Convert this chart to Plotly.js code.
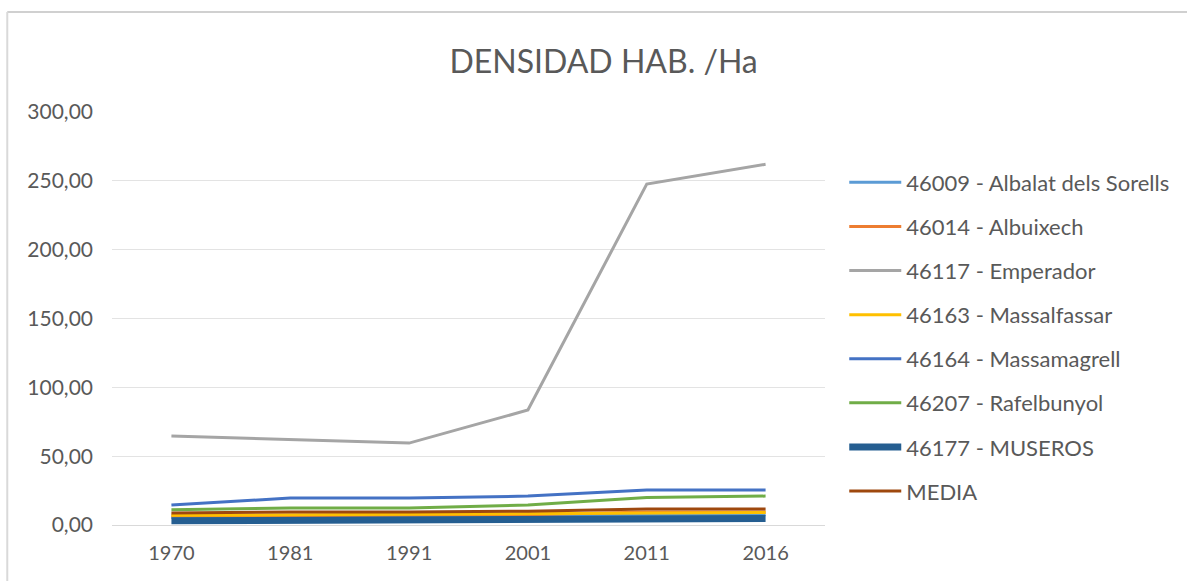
<!DOCTYPE html>
<html>
<head>
<meta charset="utf-8">
<script src="https://cdn.plot.ly/plotly-3.0.1.min.js"></script>
<style>html,body{margin:0;padding:0;background:#fff;}#chart{width:1187px;height:581px;}</style>
</head>
<body>
<div id="chart"></div>
<script>
const years = ['1970', '1981', '1991', '2001', '2011', '2016'];
const albalat = [5.5, 6.0, 6.0, 6.5, 7.5, 7.5];
const albuixech = [6.5, 7.0, 7.0, 7.5, 9.5, 9.5];
const emperador = [64.6, 61.8, 59.5, 83.5, 247.6, 262.0];
const massalfassar = [7.0, 7.5, 7.5, 8.0, 9.0, 9.0];
const massamagrell = [14.5, 19.6, 19.6, 21.0, 25.4, 25.4];
const rafelbunyol = [11.0, 12.3, 12.3, 14.5, 20.0, 21.0];
const museros = [3.0, 3.3, 3.3, 3.5, 4.5, 4.8];
const media = [8.7, 9.4, 9.4, 10.0, 11.6, 11.6];
const seriesNames = ['46009 - Albalat dels Sorells', '46014 - Albuixech', '46117 - Emperador',
  '46163 - Massalfassar', '46164 - Massamagrell', '46207 - Rafelbunyol', '46177 - MUSEROS', 'MEDIA'];
const seriesValues = [albalat, albuixech, emperador, massalfassar, massamagrell, rafelbunyol, museros, media];
const colors = ['#5B9BD5', '#ED7D31', '#A5A5A5', '#FFC000', '#4472C4', '#70AD47', '#255E91', '#9E480E'];
const widths = [3, 3, 3, 3, 3, 3, 7, 3];

const traces = seriesNames.map((n, i) => ({
  type: 'scatter', mode: 'lines', name: n, x: years, y: seriesValues[i],
  legendgroup: 'g' + i,
  line: {color: colors[i], width: widths[i]}
}));

const font = "Lato, 'Open Sans', sans-serif";
const layout = {
  width: 1187, height: 581,
  paper_bgcolor: '#fff', plot_bgcolor: '#fff',
  margin: {l: 112, r: 360, t: 112, b: 56},
  separators: ',.',
  title: {text: 'DENSIDAD HAB. /Ha', x: 0.5085, xanchor: 'center', y: 0.893, yanchor: 'middle',
    font: {family: font, size: 32, color: '#595959'}},
  xaxis: {type: 'category', range: [-0.5, 5.5], showgrid: false, zeroline: false, showline: false, ticks: '',
    ticklabelstandoff: 14,
    tickfont: {family: font, size: 20, color: '#595959'}},
  yaxis: {range: [0, 300], dtick: 50, tickformat: '.2f', showgrid: true, gridcolor: '#e3e3e3',
    zeroline: true, zerolinecolor: '#d9d9d9', ticks: '', ticklabelstandoff: 18,
    tickfont: {family: font, size: 21, color: '#595959'}},
  legend: {x: 1.027, xanchor: 'left', y: 0.88, yanchor: 'top', tracegroupgap: 12.5,
    itemwidth: 52, font: {family: font, size: 22, color: '#595959'}, bgcolor: 'rgba(0,0,0,0)'},
  showlegend: true,
  shapes: [
    {type: 'line', xref: 'paper', yref: 'paper', x0: -0.1469, x1: 1.6, y0: 1.242, y1: 1.242,
      line: {color: '#d0d0d0', width: 2}},
    {type: 'line', xref: 'paper', yref: 'paper', x0: -0.1469, x1: -0.1469, y0: 1.242, y1: -0.2,
      line: {color: '#d9d9d9', width: 2}}
  ]
};
Plotly.newPlot('chart', traces, layout, {displayModeBar: false});
</script>
</body>
</html>
